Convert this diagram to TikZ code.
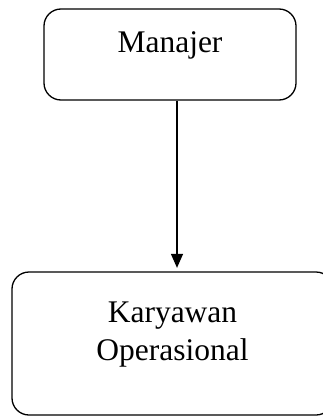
\documentclass[tikz,border=0pt]{standalone}
\usepackage{fontspec}
\setmainfont{Liberation Serif}
\usetikzlibrary{arrows.meta}
\begin{document}
\begin{tikzpicture}[x=1pt,y=-1pt,
  box/.style={draw=black,line width=1.3pt,rounded corners=17pt,minimum width=#1,inner sep=0pt},
  lbl/.style={anchor=base,inner sep=0pt,font=\fontsize{31.5}{37}\selectfont},
  conn/.style={draw=black,line width=1.3pt,-{Triangle[width=12pt,length=14pt]}}]
\useasboundingbox (0,0) rectangle (323,417);
\node[box=252pt,minimum height=91pt] (top) at (170,54.5) {};
\node[box=321pt,minimum height=143pt] (bot) at (172.5,343.5) {};
\node[lbl] (t1) at (170,53) {Manajer};
\node[lbl] (t2) at (172.5,322) {Karyawan};
\node[lbl] (t3) at (172.5,360) {Operasional};
\coordinate (ax) at (177,0);
\draw[conn,shorten >=3.5pt] (top.south -| ax) -- (bot.north -| ax);
\end{tikzpicture}
\end{document}
